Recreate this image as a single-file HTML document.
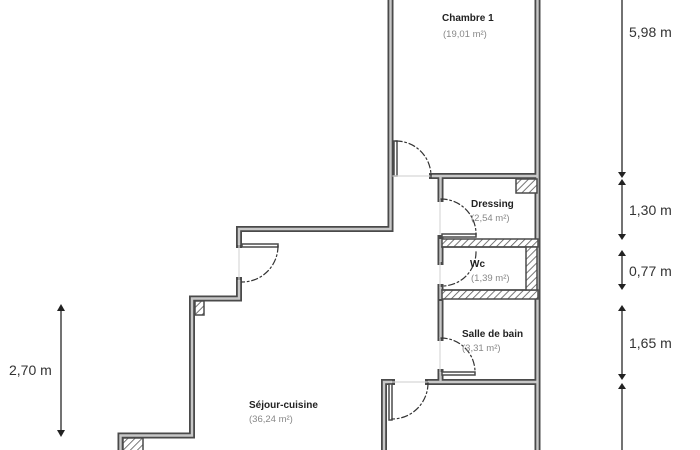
<!DOCTYPE html>
<html><head><style>
html,body{margin:0;padding:0;background:#fff;}
svg{display:block;}
text{font-family:"Liberation Sans","DejaVu Sans",sans-serif;}
</style></head><body>
<svg width="700" height="450" viewBox="0 0 700 450" xmlns="http://www.w3.org/2000/svg">
<defs>
<pattern id="h" width="5" height="5" patternUnits="userSpaceOnUse" patternTransform="rotate(45)">
<rect width="5" height="5" fill="#fff"/><line x1="0" y1="0" x2="0" y2="5" stroke="#555" stroke-width="1.6"/>
</pattern>
</defs>
<g fill="none" stroke-linejoin="miter" stroke-linecap="square">
<g stroke="#4a4a4a" stroke-width="6">
<polyline points="390.5,0 390.5,229 239,229 239,245"/>
<polyline points="239,280 239,298.5 192,298.5 192,435.5 120.5,435.5 120.5,450"/>
<line x1="537.5" y1="0" x2="537.5" y2="450"/>
<line x1="432" y1="176" x2="537" y2="176"/>
<line x1="440.5" y1="176" x2="440.5" y2="199"/>
<line x1="384" y1="382" x2="392" y2="382"/>
<polyline points="384,450 384,382"/>
<line x1="428" y1="382" x2="537" y2="382"/>
<line x1="440.5" y1="300" x2="440.5" y2="338"/>
<line x1="440.5" y1="372" x2="440.5" y2="382"/>
<line x1="440.5" y1="238" x2="440.5" y2="262"/>
<line x1="440.5" y1="287" x2="440.5" y2="300"/>
</g>
<g stroke="#c8c8c8" stroke-width="2.4" stroke-linecap="butt">
<polyline points="390.5,0 390.5,229 239,229 239,245"/>
<polyline points="239,280 239,298.5 192,298.5 192,435.5 120.5,435.5 120.5,450"/>
<line x1="537.5" y1="0" x2="537.5" y2="450"/>
<line x1="432" y1="176" x2="537" y2="176"/>
<line x1="440.5" y1="176" x2="440.5" y2="199"/>
<polyline points="384,450 384,382 392,382"/>
<line x1="428" y1="382" x2="537" y2="382"/>
<line x1="440.5" y1="301" x2="440.5" y2="338"/>
<line x1="440.5" y1="372" x2="440.5" y2="381"/>
<line x1="440.5" y1="239" x2="440.5" y2="262"/>
<line x1="440.5" y1="287" x2="440.5" y2="299"/>
</g>
<g stroke="#4a4a4a" stroke-width="1.5">
<rect x="442" y="239" width="96" height="8" fill="url(#h)"/>
<rect x="442" y="290" width="96" height="9" fill="url(#h)"/>
<rect x="526" y="247" width="11" height="43" fill="url(#h)"/>
<rect x="516" y="179" width="21" height="14" fill="url(#h)"/>
<rect x="195" y="301" width="9" height="14" fill="url(#h)"/>
<rect x="123" y="438" width="20" height="14" fill="url(#h)"/>
<line x1="442" y1="247" x2="526" y2="247"/>
<line x1="442" y1="290" x2="526" y2="290"/>
</g>
<g stroke="#4a4a4a" stroke-width="1.5" fill="#fff">
<rect x="394" y="141" width="3" height="35"/>
<rect x="442" y="234" width="34" height="3"/>
<rect x="242" y="244" width="36" height="3"/>
<rect x="442" y="372" width="33" height="3"/>
<rect x="389" y="384" width="3" height="36"/>
</g>
<g stroke="#d8d8d8" stroke-width="1.2">
<line x1="393" y1="176" x2="432" y2="176"/>
<line x1="440" y1="199" x2="440" y2="234"/>
<line x1="440" y1="262" x2="440" y2="287"/>
<line x1="440" y1="338" x2="440" y2="372"/>
<line x1="239" y1="245" x2="239" y2="280"/>
<line x1="392" y1="382" x2="428" y2="382"/>
</g>
<g stroke="#333" stroke-width="1.2" stroke-dasharray="6,3,1.5,3">
<path d="M396,141 A35,35 0 0 1 431,176"/>
<path d="M441,199 A35,35 0 0 1 476,234"/>
<path d="M278,246 A36,36 0 0 1 242,282"/>
<path d="M476,252 A34,34 0 0 1 442,286"/>
<path d="M441,338 A34,34 0 0 1 475,372"/>
<path d="M428,383 A36,36 0 0 1 392,419"/>
</g>
<g stroke="#444" stroke-width="1.5">
<line x1="622" y1="0" x2="622" y2="172"/>
<line x1="622" y1="184" x2="622" y2="234"/>
<line x1="622" y1="254" x2="622" y2="284"/>
<line x1="622" y1="309" x2="622" y2="374"/>
<line x1="622" y1="389" x2="622" y2="450"/>
<line x1="61" y1="309" x2="61" y2="430"/>
</g>
<g fill="#222">
<path d="M618,172 L626,172 L622,178Z"/>
<path d="M618,185 L626,185 L622,179Z"/>
<path d="M618,234 L626,234 L622,240Z"/>
<path d="M618,256 L626,256 L622,250Z"/>
<path d="M618,284 L626,284 L622,290Z"/>
<path d="M618,311 L626,311 L622,305Z"/>
<path d="M618,374 L626,374 L622,380Z"/>
<path d="M618,389 L626,389 L622,383Z"/>
<path d="M57,311 L65,311 L61,304Z"/>
<path d="M57,430 L65,430 L61,437Z"/>
</g>
</g>
<g font-size="14" fill="#333">
<text x="629" y="37">5,98 m</text>
<text x="629" y="215">1,30 m</text>
<text x="629" y="276">0,77 m</text>
<text x="629" y="348">1,65 m</text>
<text x="9" y="375">2,70 m</text>
</g>
<g font-size="10" font-weight="bold" fill="#222">
<text x="442" y="21">Chambre 1</text>
<text x="471" y="207">Dressing</text>
<text x="470" y="267">Wc</text>
<text x="462" y="337">Salle de bain</text>
<text x="249" y="408">Séjour-cuisine</text>
</g>
<g font-size="9.5" fill="#888">
<text x="443" y="37">(19,01 m²)</text>
<text x="471" y="221">(2,54 m²)</text>
<text x="471" y="281">(1,39 m²)</text>
<text x="462" y="351">(3,31 m²)</text>
<text x="249" y="422">(36,24 m²)</text>
</g>
</svg>
</body></html>
